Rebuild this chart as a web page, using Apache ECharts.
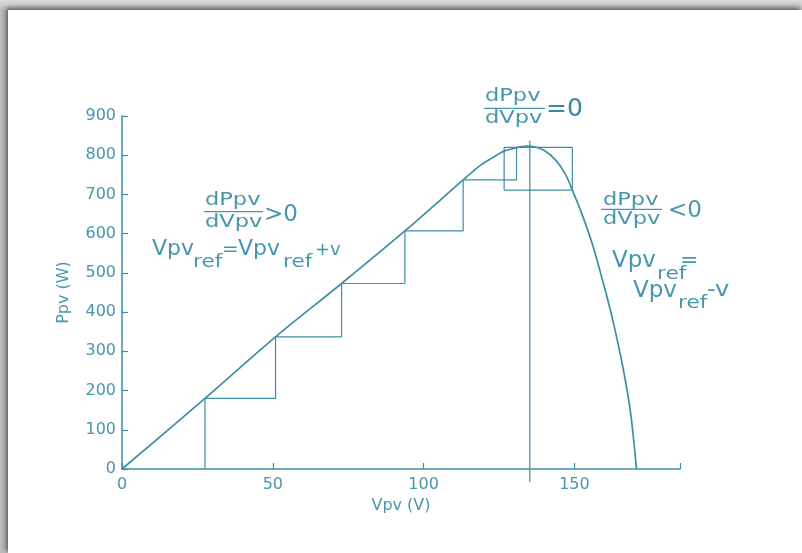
<!DOCTYPE html>
<html>
<head>
<meta charset="utf-8">
<script src="https://cdn.jsdelivr.net/npm/echarts@6/dist/echarts.min.js"></script>
<style>
html,body{margin:0;padding:0;width:802px;height:553px;overflow:hidden;background:#fff;}
#frame{position:absolute;left:0;top:0;width:802px;height:553px;background:linear-gradient(180deg,#dcdcdc 0px,#bdbdbd 10px);}
#card{position:absolute;left:8px;top:10px;right:0;bottom:0;background:#fff;box-shadow:-2px -2px 5px rgba(0,0,0,0.55);}
#chart{position:absolute;left:0;top:0;width:802px;height:553px;}
</style>
</head>
<body>
<div id="frame"><div id="card"></div></div>
<div id="chart"></div>
<script>
// P-V characteristic curve
const curveV = [0, 27.5, 50.9, 72.8, 93.8, 113.1, 118.6, 122.5, 126.6, 130.8, 134, 137, 140, 143.5, 147, 149.3, 152, 156, 160, 163, 166, 168.5, 170.6];
const curveP = [0, 180, 337, 473, 607, 737, 773, 792, 810, 819, 823, 821, 812, 790, 752, 711, 660, 572, 462, 370, 262, 150, 0];
// Perturb & observe staircase
const stairV = [27.5, 27.5, 50.9, 50.9, 72.8, 72.8, 93.8, 93.8, 113.1, 113.1, 130.8, 130.8];
const stairP = [0, 180, 180, 337, 337, 473, 473, 607, 607, 737, 737, 820];
// Oscillation box around the MPP
const boxV = [126.7, 126.7, 149.3, 149.3, 126.7];
const boxP = [711, 820, 820, 711, 711];
// MPP vertical marker
const mppV = [135.2, 135.2];
const mppP = [-33, 837];
// Axis ticks
const xTicks = {min: 0, max: 185, interval: 50};
const yTicks = {min: 0, max: 900, interval: 100};

const C = '#3d8ea6';
const T = '#4896ad';
const F = 'DejaVu Sans';
const zip = (a, b) => a.map((v, i) => [v, b[i]]);

function txt(x, base, s, str, sx, fill) {
  return {type: 'text', x: x, y: base - 0.3 * s, scaleX: sx || 1, silent: true,
    style: {text: str, font: s + 'px "' + F + '"', fill: fill || T, align: 'left', verticalAlign: 'middle'}};
}
function hline(x1, x2, y) {
  return {type: 'line', silent: true, shape: {x1: x1, y1: y, x2: x2, y2: y}, style: {stroke: T, lineWidth: 1.3}};
}

const graphics = [
  // top: dPpv/dVpv = 0
  txt(485, 101.7, 18, 'dPpv', 1.25),
  hline(484, 545, 108.3),
  txt(485, 123.5, 18, 'dVpv', 1.25),
  txt(546, 117, 25, '=0', 1, '#3a89a0'),
  // left: dPpv/dVpv > 0
  txt(205, 205.4, 18, 'dPpv', 1.25),
  hline(204, 263, 211.7),
  txt(205, 227.5, 18, 'dVpv', 1.25),
  txt(264, 222, 23, '>0', 1),
  // Vpv_ref = Vpv_ref + v
  txt(152, 256, 22, 'Vpv', 1),
  txt(193, 268, 18, 'ref', 1.2),
  txt(222, 256, 20, '=', 1),
  txt(238, 256, 22, 'Vpv', 1),
  txt(283, 268, 18, 'ref', 1.2),
  txt(315, 256, 18, '+v', 1),
  // right: dPpv/dVpv < 0
  txt(603, 205.7, 18, 'dPpv', 1.25),
  hline(601, 662, 209.3),
  txt(603, 225, 18, 'dVpv', 1.25),
  txt(668, 218, 23, '<0', 1),
  // Vpv_ref = Vpv_ref - v
  txt(612, 268, 23, 'Vpv', 1),
  txt(657, 280, 18, 'ref', 1.2),
  txt(680, 268, 22, '=', 1),
  txt(633, 298, 23, 'Vpv', 1),
  txt(678, 309, 18, 'ref', 1.2),
  txt(707, 297, 22, '-v', 1.1)
];

const chart = echarts.init(document.getElementById('chart'), null, {renderer: 'canvas'});
chart.setOption({
  animation: false,
  backgroundColor: 'transparent',
  grid: {left: 122, right: 122, top: 116, bottom: 84, containLabel: false},
  xAxis: {
    type: 'value', min: xTicks.min, max: xTicks.max, interval: xTicks.interval,
    name: 'Vpv (V)', nameLocation: 'middle', nameGap: 29,
    nameTextStyle: {color: T, fontSize: 16, fontFamily: F},
    axisLine: {show: true, lineStyle: {color: C, width: 1.5}},
    axisTick: {show: true, inside: true, length: 6, lineStyle: {color: C, width: 1.2}},
    axisLabel: {color: T, fontSize: 16, fontFamily: F, margin: 8,
      formatter: v => (v % 50 === 0 ? String(v) : '')},
    splitLine: {show: false}
  },
  yAxis: {
    type: 'value', min: yTicks.min, max: yTicks.max, interval: yTicks.interval,
    name: 'Ppv (W)', nameLocation: 'middle', nameGap: 50,
    nameTextStyle: {color: T, fontSize: 16, fontFamily: F},
    axisLine: {show: true, lineStyle: {color: C, width: 1.5}},
    axisTick: {show: true, inside: true, length: 6, lineStyle: {color: C, width: 1.2}},
    axisLabel: {color: T, fontSize: 16, fontFamily: F, margin: 6},
    splitLine: {show: false}
  },
  series: [
    {type: 'line', data: zip(curveV, curveP), smooth: 0.3, symbol: 'none',
      lineStyle: {color: C, width: 1.7}, z: 3},
    {type: 'line', data: zip(stairV, stairP), symbol: 'none', lineStyle: {color: C, width: 1.2}},
    {type: 'line', data: zip(boxV, boxP), symbol: 'none', lineStyle: {color: C, width: 1.2}},
    {type: 'line', data: zip(mppV, mppP), symbol: 'none', clip: false, lineStyle: {color: C, width: 1.2}}
  ],
  graphic: graphics
});
</script>
</body>
</html>
